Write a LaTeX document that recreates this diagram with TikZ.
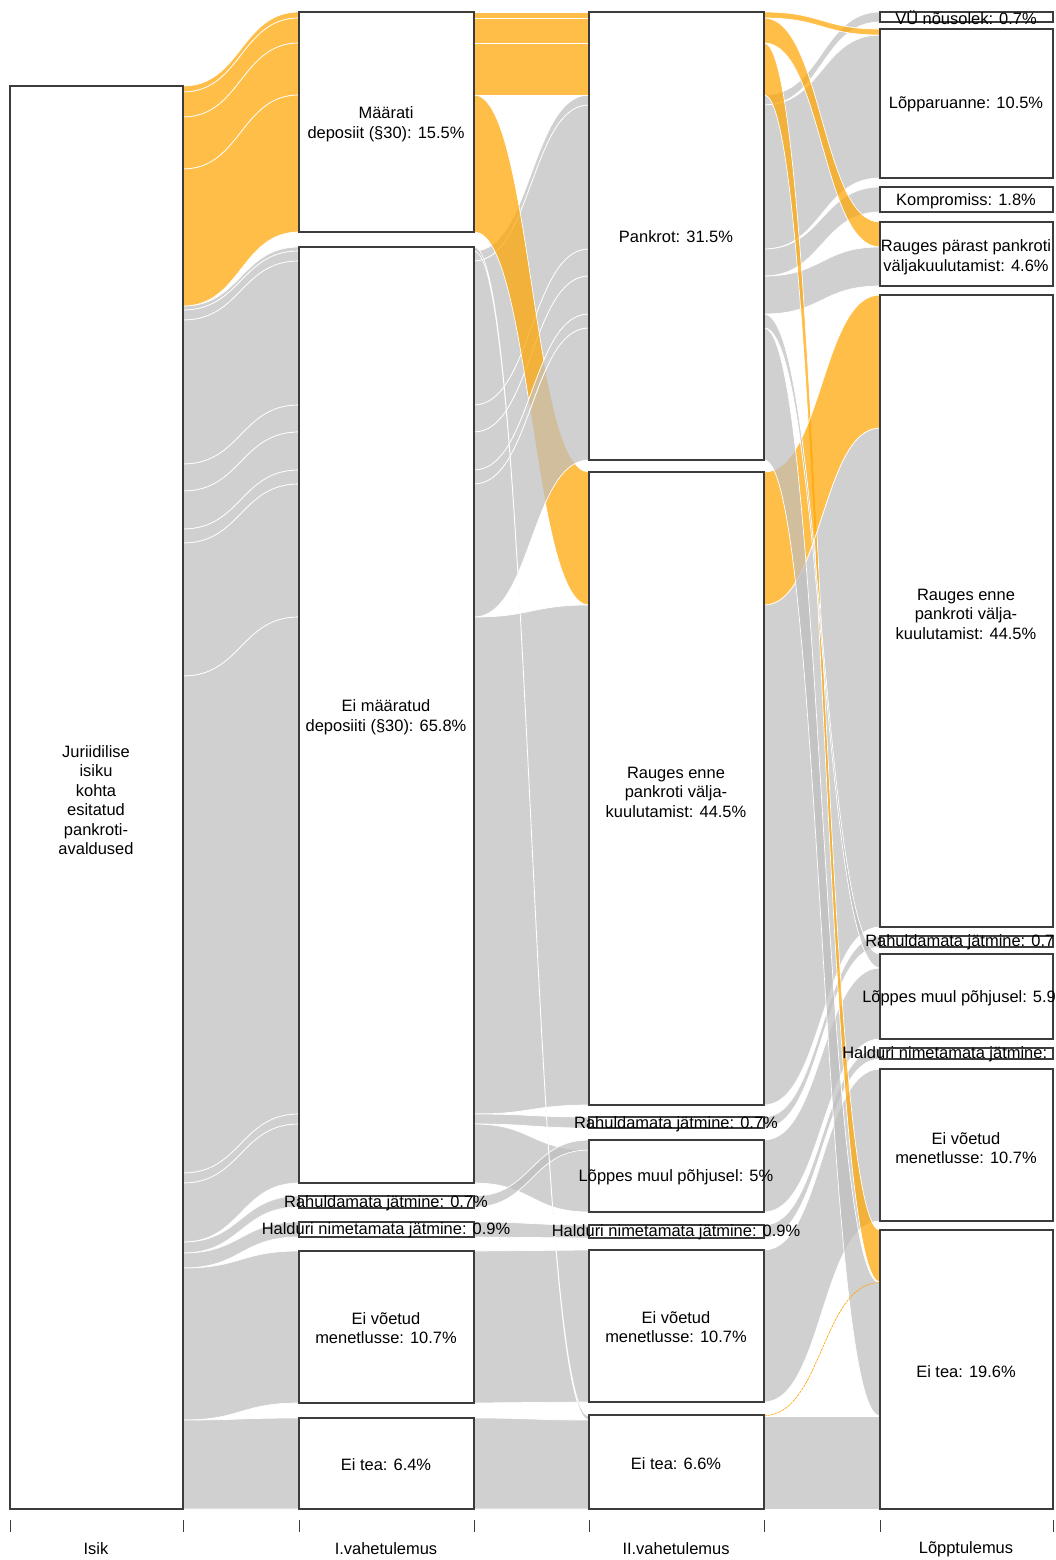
\documentclass[tikz,border=0pt]{standalone}
\usepackage{fontspec}
\setmainfont{Liberation Sans}
\usepackage{xcolor}
\definecolor{flowgray}{RGB}{190,190,190}
\definecolor{floworange}{RGB}{255,165,0}
\definecolor{boxline}{RGB}{60,60,60}

% one ribbon between two axes: style, x left, x right, top/bottom left, top/bottom right
\newcommand{\ribbon}[7]{%
  \pgfmathsetmacro{\flowmid}{(#2+#3)/2}%
  \path[#1] (#2,#4) .. controls (\flowmid,#4) and (\flowmid,#6) .. (#3,#6)
    -- (#3,#7) .. controls (\flowmid,#7) and (\flowmid,#5) .. (#2,#5) -- cycle;%
}

\tikzset{
  grayflow/.style={fill=flowgray, fill opacity=0.72, draw=white, line width=0.5pt},
  orangeflow/.style={fill=floworange, fill opacity=0.72, draw=white, line width=0.5pt},
  thinflow/.style={draw=floworange, line width=0.45pt, dash pattern=on 2pt off 0.6pt},
  box/.style={fill=white, draw=boxline, line width=0.9pt},
  lbl/.style={font=\fontsize{11.7}{13.9}\selectfont, align=center, inner sep=0pt},
  tick/.style={draw=boxline, line width=0.7pt}
}

\begin{document}
\begin{tikzpicture}[x=0.025cm, y=-0.025cm]
    \useasboundingbox (0,0) rectangle (1055,1560);

    % gray alluvia, lower layer
    \foreach \ta/\ba/\tb/\bb in {306/310/247/251, 310/320/251/261, 320/464/261/405,
        464/491/405/432, 491/529/432/470, 529/543/470/484, 543/676/484/617,
        676/1173/617/1114, 1173/1183/1114/1124, 1183/1242/1124/1183,
        1242/1253/1196/1207, 1253/1268/1222/1237, 1268/1420/1251/1403, 1420/1509/1418/1509}
        {\ribbon{grayflow}{183}{299}{\ta}{\ba}{\tb}{\bb}}
    \foreach \ta/\ba/\tb/\bb in {251/261/95/105, 261/405/105/249, 405/432/249/276,
        432/470/276/314, 617/1114/605/1105, 1114/1124/1117/1128, 1124/1183/1150/1212,
        1196/1207/1140/1150, 1222/1237/1225/1238, 1251/1403/1250/1402, 1418/1509/1420/1509}
        {\ribbon{grayflow}{474}{589}{\ta}{\ba}{\tb}{\bb}}
    \foreach \ta/\ba/\tb/\bb in {95/105/12/22, 105/249/35/178, 249/276/187/212,
        276/314/247/286, 605/1105/428/927, 1117/1128/936/947, 1140/1212/968/1039,
        1225/1238/1048/1059, 1250/1402/1069/1221, 1416/1509/1416/1509}
        {\ribbon{grayflow}{764}{880}{\ta}{\ba}{\tb}{\bb}}

    % orange alluvia (Määrati deposiit)
    \foreach \ta/\ba/\tb/\bb in {86/92/12/18, 92/117/18/43, 117/169/43/95, 169/306/95/232}
        {\ribbon{orangeflow}{183}{299}{\ta}{\ba}{\tb}{\bb}}
    \foreach \ta/\ba/\tb/\bb in {12/18/12/18, 18/43/18/43, 43/95/43/95, 95/232/472/605}
        {\ribbon{orangeflow}{474}{589}{\ta}{\ba}{\tb}{\bb}}
    \foreach \ta/\ba/\tb/\bb in {12/18/29/35, 18/43/222/247, 43/95/1230/1282, 472/605/295/428}
        {\ribbon{orangeflow}{764}{880}{\ta}{\ba}{\tb}{\bb}}

    % gray alluvia, upper layer
    \foreach \ta/\ba/\tb/\bb in {470/484/314/328, 484/617/328/460, 247/251/1416/1420}
        {\ribbon{grayflow}{474}{589}{\ta}{\ba}{\tb}{\bb}}
    \foreach \ta/\ba/\tb/\bb in {314/328/954/968, 328/460/1283/1416}
        {\ribbon{grayflow}{764}{880}{\ta}{\ba}{\tb}{\bb}}
    \draw[thinflow] (764,1415.5) .. controls (822,1415.5) and (822,1282.5) .. (880,1282.5);

    % boxes
    \draw[box] (10,86) rectangle (183,1509);
    \foreach \ya/\yb in {12/232, 247/1183, 1196/1208, 1222/1237, 1251/1403, 1418/1509}
        \draw[box] (299,\ya) rectangle (474,\yb);
    \foreach \ya/\yb in {12/460, 472/1105, 1117/1128, 1140/1212, 1225/1238, 1250/1402, 1415/1509}
        \draw[box] (589,\ya) rectangle (764,\yb);
    \foreach \ya/\yb in {12/22, 29/178, 187/212, 222/286, 295/927, 936/947, 954/1039,
        1048/1059, 1069/1221, 1230/1509}
        \draw[box] (880,\ya) rectangle (1053,\yb);

    % labels
    \node[lbl] (isik) at (96,800) {Juriidilise\\isiku\\kohta\\esitatud\\pankroti-\\avaldused};

    \node[lbl] (maarati) at (386,124) {Määrati\\deposiit (§30): 15.5\%};
    \node[lbl] (eimaaratud) at (386,717) {Ei määratud\\deposiiti (§30): 65.8\%};
    \node[lbl] (rahuldI) at (386,1203) {Rahuldamata jätmine: 0.7\%};
    \node[lbl] (halduriI) at (386,1230) {Halduri nimetamata jätmine: 0.9\%};
    \node[lbl] (eivoetudI) at (386,1328) {Ei võetud\\menetlusse: 10.7\%};
    \node[lbl] (eiteaI) at (386,1465) {Ei tea: 6.4\%};

    \node[lbl] (pankrot) at (676,237) {Pankrot: 31.5\%};
    \node[lbl] (raugesII) at (676,792) {Rauges enne\\pankroti välja-\\kuulutamist: 44.5\%};
    \node[lbl] (rahuldII) at (676,1124) {Rahuldamata jätmine: 0.7\%};
    \node[lbl] (loppesII) at (676,1177) {Lõppes muul põhjusel: 5\%};
    \node[lbl] (halduriII) at (676,1232) {Halduri nimetamata jätmine: 0.9\%};
    \node[lbl] (eivoetudII) at (676,1327) {Ei võetud\\menetlusse: 10.7\%};
    \node[lbl] (eiteaII) at (676,1464) {Ei tea: 6.6\%};

    \node[lbl] (vunousolek) at (966,18) {VÜ nõusolek: 0.7\%};
    \node[lbl] (lopparuanne) at (966,104) {Lõpparuanne: 10.5\%};
    \node[lbl] (kompromiss) at (966,201) {Kompromiss: 1.8\%};
    \node[lbl] (raugesparast) at (966,257) {Rauges pärast pankroti\\väljakuulutamist: 4.6\%};
    \node[lbl] (raugesIII) at (966,614) {Rauges enne\\pankroti välja-\\kuulutamist: 44.5\%};
    \node[lbl, anchor=west] (rahuldIII) at (865,942) {Rahuldamata jätmine: 0.7};
    \node[lbl, anchor=west] (loppesIII) at (862,998) {Lõppes muul põhjusel: 5.9};
    \node[lbl, anchor=west] (halduriIII) at (842,1054) {Halduri nimetamata jätmine:};
    \node[lbl] (eivoetudIII) at (966,1148) {Ei võetud\\menetlusse: 10.7\%};
    \node[lbl] (eiteaIII) at (966,1372) {Ei tea: 19.6\%};

    % axis
    \foreach \xt in {10, 183, 299, 474, 589, 764, 880, 1053}
        \draw[tick] (\xt,1520) -- (\xt,1532);
    \node[lbl] (axisI) at (96,1549) {Isik};
    \node[lbl] (axisII) at (386,1549) {I.vahetulemus};
    \node[lbl] (axisIII) at (676,1549) {II.vahetulemus};
    \node[lbl] (axisIV) at (966,1549) {Lõpptulemus};
\end{tikzpicture}
\end{document}
